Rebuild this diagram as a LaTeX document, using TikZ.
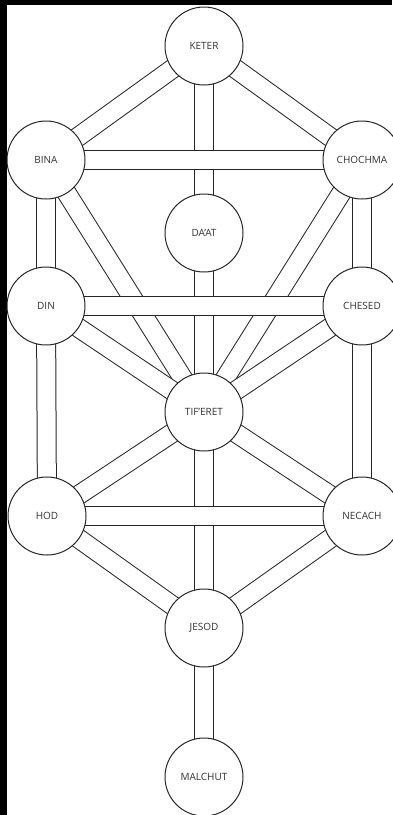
\documentclass[tikz,border=0pt]{standalone}
\usepackage{fontspec}
\setsansfont{Open Sans}
\pgfdeclarelayer{paper}
\pgfdeclarelayer{paths}
\pgfsetlayers{paper,paths,main}

\begin{document}
\begin{tikzpicture}[
  x=1pt,y=-1pt,
  sefira/.style={draw=black!85,circle,line width=1pt,fill=white,minimum size=78pt,inner sep=0pt,font=\sffamily\fontsize{10}{12}\selectfont,text=black!80},
  path/.style={draw=black!85,line width=1pt,double=white,double distance=18pt}
]
  % backdrop
  \begin{pgfonlayer}{paper}
    \fill[black] (0,0) rectangle (392,815);
    \fill[white] (7,5) rectangle (392,815);
  \end{pgfonlayer}
  \useasboundingbox (0,0) rectangle (392,815);

  \node[sefira] (keter)   at (204,46)  {KETER};
  \node[sefira] (bina)    at (46,160)  {BINA};
  \node[sefira] (chochma) at (362,160) {CHOCHMA};
  \node[sefira] (daat)    at (204,233) {DA'AT};
  \node[sefira] (din)     at (46,306)  {DIN};
  \node[sefira] (chesed)  at (362,306) {CHESED};
  \node[sefira] (tiferet) at (204,412) {TIF'ERET};
  \node[sefira] (hod)     at (47,516)  {HOD};
  \node[sefira] (necach)  at (362,516) {NECACH};
  \node[sefira] (jesod)   at (204,628) {JESOD};
  \node[sefira] (malchut) at (204,777) {MALCHUT};

  % paths between the sefirot
  \begin{pgfonlayer}{paths}
    \foreach \a/\b in {keter/bina,keter/chochma,keter/daat,daat/tiferet,
                       bina/din,chochma/chesed,din/hod,chesed/necach,
                       bina/tiferet,chochma/tiferet,din/tiferet,chesed/tiferet,
                       tiferet/hod,tiferet/necach,tiferet/jesod,
                       hod/jesod,necach/jesod,jesod/malchut}
      \path[path] (\a.center) -- (\b.center);
    \foreach \a/\b in {bina/chochma,din/chesed,hod/necach}
      \path[path] (\a.center) -- (\b.center);
  \end{pgfonlayer}
\end{tikzpicture}
\end{document}
